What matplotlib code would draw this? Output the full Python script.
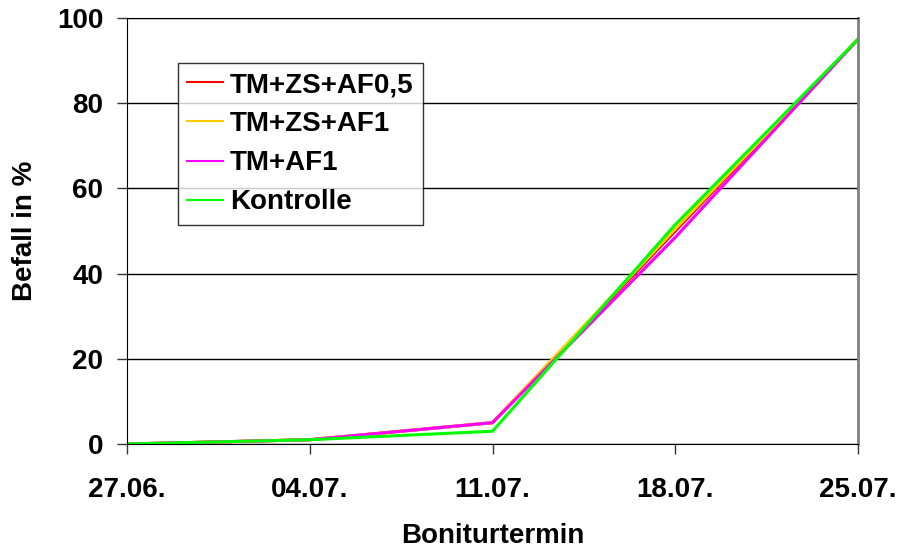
import matplotlib
matplotlib.use("Agg")
import matplotlib.pyplot as plt

dates = ["27.06.", "04.07.", "11.07.", "18.07.", "25.07."]
y_ticks = [0, 20, 40, 60, 80, 100]
s_red = [0, 1, 5, 50, 95]
s_orange = [0, 1, 5, 50.5, 95]
s_pink = [0, 1, 5, 48.5, 95]
s_green = [0, 1, 3, 51.5, 95]
labels = ["TM+ZS+AF0,5", "TM+ZS+AF1", "TM+AF1", "Kontrolle"]
colors = ["#FF0000", "#FFCC00", "#FF00FF", "#00FF00"]

plt.rcParams['font.family'] = ['Liberation Sans', 'DejaVu Sans']
plt.rcParams['font.weight'] = 'bold'

FS = 20
fig = plt.figure(figsize=(8.99, 5.48), dpi=100)
ax = fig.add_axes([127/899, 1-444/548, (858-127)/899, (444-18)/548])

x = list(range(len(dates)))
for s, c, l in zip([s_red, s_orange, s_pink, s_green], colors, labels):
    ax.plot(x, s, color=c, lw=2.2, label=l, solid_joinstyle='miter')

ax.set_xlim(0, 4)
ax.set_ylim(0, 100)
ax.set_yticks(y_ticks)
ax.set_xticks(x)
ax.set_xticklabels(dates)
ax.yaxis.grid(True, color='black', lw=1)
ax.set_axisbelow(True)
ax.tick_params(axis='both', labelsize=FS, direction='out', length=7, width=1, color='#333333')
ax.tick_params(axis='x', pad=17)
ax.tick_params(axis='y', pad=10)
for lab in ax.get_xticklabels() + ax.get_yticklabels():
    lab.set_fontweight('bold')
ax.spines['left'].set_color('black')
ax.spines['bottom'].set_color('black')
ax.spines['top'].set_color('black')
ax.spines['right'].set_color('#808080')
ax.spines['right'].set_linewidth(2)
ax.set_ylabel("Befall in %", fontsize=FS, fontweight='bold', labelpad=14)
ax.set_xlabel("Boniturtermin", fontsize=FS, fontweight='bold', labelpad=14.5)

leg = ax.legend(loc='upper left', bbox_to_anchor=((178-127)/731, 1-(63-18)/426),
                fontsize=FS, frameon=True, fancybox=False, edgecolor='black',
                handlelength=1.3, handletextpad=0.25, borderpad=0.33, labelspacing=0.47,
                borderaxespad=0)
leg.get_frame().set_linewidth(1)
for t in leg.get_texts():
    t.set_fontweight('bold')
for h in leg.get_lines():
    h.set_linewidth(1.5)

fig.savefig("out.png", dpi=100)
